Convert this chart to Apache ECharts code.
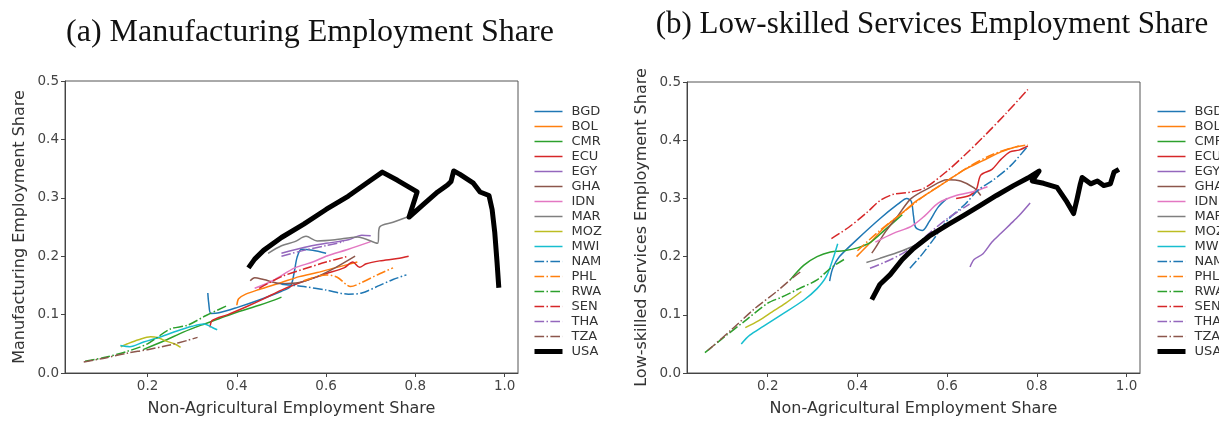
<!DOCTYPE html>
<html><head><meta charset="utf-8">
<script src="https://cdn.jsdelivr.net/npm/echarts@6/dist/echarts.min.js"></script>
<style>html,body{margin:0;padding:0;background:#fff}#c{width:1219px;height:422px}</style>
</head><body><div id="c"></div>
<script>
const countries = ['BGD','BOL','CMR','ECU','EGY','GHA','IDN','MAR','MOZ','MWI','NAM','PHL','RWA','SEN','THA','TZA','USA'];
const colors = ['#1f77b4','#ff7f0e','#2ca02c','#d62728','#9467bd','#8c564b','#e377c2','#7f7f7f','#bcbd22','#17becf','#1f77b4','#ff7f0e','#2ca02c','#d62728','#9467bd','#8c564b','#000000'];
const dashDot = ['NAM','PHL','RWA','SEN','THA','TZA'];
const xTicks = [0.2,0.4,0.6,0.8,1.0];
const yTicks = [0,0.1,0.2,0.3,0.4,0.5];

// (a) Manufacturing employment share vs non-agricultural employment share
const mfg_BGD = [[0.335,0.137],[0.337,0.12],[0.342,0.102],[0.36,0.103],[0.4,0.112],[0.45,0.125],[0.5,0.14],[0.52,0.148],[0.528,0.17],[0.535,0.198],[0.545,0.212],[0.57,0.21],[0.6,0.205]];
const mfg_BOL = [[0.40,0.116],[0.404,0.127],[0.42,0.135],[0.45,0.143],[0.5,0.155],[0.54,0.165],[0.58,0.172],[0.62,0.18],[0.67,0.19]];
const mfg_CMR = [[0.19,0.04],[0.24,0.056],[0.28,0.07],[0.32,0.082],[0.36,0.093],[0.4,0.104],[0.45,0.116],[0.48,0.124],[0.5,0.13]];
const mfg_ECU = [[0.34,0.078],[0.345,0.09],[0.38,0.1],[0.42,0.113],[0.46,0.127],[0.5,0.142],[0.55,0.157],[0.6,0.17],[0.64,0.18],[0.66,0.19],[0.675,0.181],[0.69,0.187],[0.72,0.192],[0.76,0.196],[0.785,0.2]];
const mfg_EGY = [[0.5,0.205],[0.55,0.215],[0.6,0.222],[0.65,0.228],[0.68,0.236],[0.7,0.235]];
const mfg_GHA = [[0.43,0.158],[0.44,0.163],[0.46,0.16],[0.5,0.153],[0.54,0.155],[0.58,0.165],[0.62,0.18],[0.665,0.2]];
const mfg_IDN = [[0.44,0.145],[0.48,0.158],[0.53,0.18],[0.57,0.19],[0.6,0.2],[0.65,0.212],[0.7,0.225]];
const mfg_MAR = [[0.47,0.205],[0.5,0.218],[0.53,0.225],[0.555,0.234],[0.58,0.226],[0.62,0.228],[0.67,0.233],[0.715,0.222],[0.72,0.25],[0.75,0.258],[0.782,0.267]];
const mfg_MOZ = [[0.14,0.045],[0.155,0.05],[0.18,0.057],[0.207,0.062],[0.225,0.06],[0.24,0.055],[0.26,0.05],[0.274,0.044]];
const mfg_MWI = [[0.139,0.047],[0.16,0.045],[0.191,0.053],[0.23,0.062],[0.266,0.072],[0.3,0.08],[0.326,0.084],[0.345,0.078],[0.356,0.074]];
const mfg_NAM = [[0.5,0.152],[0.55,0.148],[0.6,0.142],[0.65,0.135],[0.68,0.137],[0.72,0.15],[0.75,0.16],[0.78,0.168]];
const mfg_PHL = [[0.55,0.158],[0.6,0.168],[0.625,0.164],[0.655,0.148],[0.68,0.155],[0.72,0.17],[0.75,0.18]];
const mfg_RWA = [[0.06,0.02],[0.1,0.026],[0.15,0.036],[0.2,0.05],[0.25,0.075],[0.29,0.082],[0.33,0.098],[0.38,0.116]];
const mfg_SEN = [[0.45,0.145],[0.5,0.165],[0.55,0.178],[0.6,0.19],[0.65,0.2]];
const mfg_THA = [[0.5,0.2],[0.55,0.21],[0.6,0.218],[0.64,0.225]];
const mfg_TZA = [[0.057,0.019],[0.1,0.025],[0.154,0.034],[0.2,0.04],[0.25,0.048],[0.29,0.056],[0.312,0.061]];
const mfg_USA = [[0.426,0.18],[0.44,0.195],[0.46,0.21],[0.5,0.232],[0.55,0.255],[0.6,0.28],[0.65,0.303],[0.7,0.33],[0.726,0.344],[0.76,0.33],[0.804,0.31],[0.786,0.267],[0.82,0.29],[0.85,0.31],[0.872,0.322],[0.88,0.328],[0.886,0.346],[0.9,0.34],[0.93,0.325],[0.945,0.31],[0.965,0.304],[0.972,0.28],[0.978,0.24],[0.983,0.19],[0.987,0.146]];

// (b) Low-skilled services employment share vs non-agricultural employment share
const svc_BGD = [[0.338,0.158],[0.345,0.18],[0.36,0.2],[0.4,0.23],[0.45,0.265],[0.49,0.29],[0.51,0.3],[0.52,0.295],[0.525,0.27],[0.53,0.25],[0.545,0.245],[0.56,0.26],[0.58,0.285],[0.6,0.3]];
const svc_BOL = [[0.398,0.2],[0.43,0.225],[0.46,0.25],[0.5,0.275],[0.53,0.295],[0.56,0.31],[0.6,0.33],[0.64,0.35],[0.68,0.365],[0.72,0.38],[0.76,0.39]];
const svc_CMR = [[0.25,0.16],[0.28,0.185],[0.31,0.2],[0.34,0.208],[0.37,0.21],[0.4,0.215],[0.43,0.225],[0.46,0.245],[0.5,0.272]];
const svc_ECU = [[0.62,0.3],[0.65,0.305],[0.665,0.315],[0.675,0.34],[0.7,0.35],[0.72,0.367],[0.74,0.38],[0.76,0.383],[0.78,0.39]];
const svc_EGY = [[0.651,0.182],[0.66,0.195],[0.68,0.205],[0.7,0.225],[0.72,0.24],[0.74,0.255],[0.76,0.27],[0.785,0.292]];
const svc_GHA = [[0.432,0.206],[0.44,0.215],[0.46,0.24],[0.49,0.27],[0.52,0.3],[0.56,0.318],[0.6,0.332],[0.63,0.33],[0.66,0.318],[0.675,0.305]];
const svc_IDN = [[0.44,0.225],[0.48,0.24],[0.52,0.252],[0.55,0.27],[0.58,0.292],[0.62,0.305],[0.66,0.312],[0.69,0.32]];
const svc_MAR = [[0.42,0.19],[0.45,0.197],[0.5,0.21],[0.53,0.22]];
const svc_MOZ = [[0.15,0.078],[0.18,0.09],[0.21,0.105],[0.24,0.12],[0.275,0.14]];
const svc_MWI = [[0.141,0.05],[0.16,0.065],[0.19,0.08],[0.23,0.1],[0.28,0.125],[0.31,0.145],[0.33,0.165],[0.345,0.195],[0.356,0.222]];
const svc_NAM = [[0.517,0.18],[0.54,0.2],[0.57,0.23],[0.6,0.262],[0.64,0.29],[0.67,0.315],[0.7,0.33],[0.74,0.355],[0.78,0.39]];
const svc_PHL = [[0.4,0.21],[0.45,0.245],[0.5,0.275],[0.55,0.305],[0.6,0.33],[0.65,0.355],[0.7,0.375],[0.75,0.388],[0.78,0.392]];
const svc_RWA = [[0.06,0.035],[0.1,0.06],[0.15,0.09],[0.2,0.12],[0.23,0.13],[0.27,0.145],[0.31,0.16],[0.34,0.18],[0.37,0.195]];
const svc_SEN = [[0.342,0.231],[0.38,0.25],[0.42,0.275],[0.45,0.296],[0.48,0.307],[0.52,0.311],[0.55,0.318],[0.6,0.347],[0.64,0.375],[0.68,0.405],[0.73,0.445],[0.78,0.487]];
const svc_THA = [[0.428,0.18],[0.46,0.19],[0.5,0.205],[0.53,0.22],[0.56,0.24],[0.6,0.265],[0.65,0.29]];
const svc_TZA = [[0.067,0.039],[0.12,0.075],[0.17,0.11],[0.22,0.14],[0.25,0.16],[0.275,0.175]];
const svc_USA = [[0.432,0.126],[0.45,0.152],[0.473,0.169],[0.5,0.195],[0.525,0.214],[0.56,0.235],[0.6,0.254],[0.64,0.272],[0.674,0.288],[0.71,0.305],[0.748,0.322],[0.78,0.335],[0.805,0.347],[0.79,0.33],[0.815,0.326],[0.845,0.319],[0.867,0.294],[0.882,0.274],[0.89,0.3],[0.897,0.325],[0.901,0.336],[0.92,0.325],[0.935,0.33],[0.949,0.322],[0.964,0.325],[0.972,0.345],[0.983,0.35]];

const mfgData = {BGD:mfg_BGD,BOL:mfg_BOL,CMR:mfg_CMR,ECU:mfg_ECU,EGY:mfg_EGY,GHA:mfg_GHA,IDN:mfg_IDN,MAR:mfg_MAR,MOZ:mfg_MOZ,MWI:mfg_MWI,NAM:mfg_NAM,PHL:mfg_PHL,RWA:mfg_RWA,SEN:mfg_SEN,THA:mfg_THA,TZA:mfg_TZA,USA:mfg_USA};
const svcData = {BGD:svc_BGD,BOL:svc_BOL,CMR:svc_CMR,ECU:svc_ECU,EGY:svc_EGY,GHA:svc_GHA,IDN:svc_IDN,MAR:svc_MAR,MOZ:svc_MOZ,MWI:svc_MWI,NAM:svc_NAM,PHL:svc_PHL,RWA:svc_RWA,SEN:svc_SEN,THA:svc_THA,TZA:svc_TZA,USA:svc_USA};

const FONT = 'DejaVu Sans';
const DASHDOT = [9.6,2.4,1.5,2.4];
function xAxisCfg(idx){
  return {gridIndex: idx, type:'value', min: idx===0?0.015:0.02, max:1.03,
    name:'Non-Agricultural Employment Share', nameLocation:'middle', nameGap:28,
    nameTextStyle:{fontFamily:FONT,fontSize:16,color:'#333'},
    axisLine:{show:true,onZero:false,lineStyle:{color:'#444',width:1}},
    axisTick:{show:true,length:4,lineStyle:{color:'#444'},customValues:xTicks},
    axisLabel:{fontFamily:FONT,fontSize:13.5,color:'#444',margin:6,customValues:xTicks,formatter:v=>v.toFixed(1)},
    splitLine:{show:false}};
}
function yAxisCfg(idx, name){
  return {gridIndex: idx, type:'value', min:0, max:0.5, interval:0.1,
    name:name, nameLocation:'middle', nameGap:37,
    nameTextStyle:{fontFamily:FONT,fontSize:16,color:'#333'},
    axisLine:{show:true,lineStyle:{color:'#444',width:1}},
    axisTick:{show:true,length:4,lineStyle:{color:'#444'}},
    axisLabel:{fontFamily:FONT,fontSize:13.5,color:'#444',margin:6,formatter:v=>v.toFixed(1)},
    splitLine:{show:false}};
}
const series = [];
[mfgData, svcData].forEach((src, gi) => {
  countries.forEach((c, i) => {
    const isUSA = c === 'USA';
    const dd = dashDot.includes(c);
    series.push({name:c, type:'line', xAxisIndex:gi, yAxisIndex:gi, data:src[c],
      showSymbol:false, symbol:'none', smooth: isUSA ? false : 0.3, z: isUSA?3:2,
      lineStyle:{color:colors[i], width: isUSA?5:1.5, type: dd?DASHDOT:'solid', cap:'butt', join:'round'},
      itemStyle:{color:colors[i]}, emphasis:{disabled:true}, animation:false});
  });
});
const legendItems = countries.map((c, i) => ({
  name:c,
  itemStyle:{opacity:0},
  lineStyle:{color:colors[i], width: c==='USA'?5:1.5, type: dashDot.includes(c)?DASHDOT:'solid', cap:'butt'}
}));
function legendCfg(left){
  return {orient:'vertical', left:left, top:99, itemWidth:28, itemHeight:15, itemGap:0,
    data: legendItems,
    textStyle:{fontFamily:FONT,fontSize:13,color:'#333',lineHeight:15, padding:[0,0,0,4]},
    selectedMode:false};
}
const chart = echarts.init(document.getElementById('c'), null, {renderer:'canvas'});
chart.setOption({
  backgroundColor:'#fff',
  animation:false,
  title:[
    {text:'(a) Manufacturing Employment Share', left:305, top:12, textAlign:'center',
     textStyle:{fontFamily:'Liberation Serif',fontSize:32,fontWeight:'normal',color:'#111'}},
    {text:'(b) Low-skilled Services Employment Share', left:927, top:4, textAlign:'center',
     textStyle:{fontFamily:'Liberation Serif',fontSize:31,fontWeight:'normal',color:'#111'}}
  ],
  grid:[
    {left:65, top:81, width:453, height:295, show:true, borderColor:'#555', borderWidth:1, backgroundColor:'transparent'},
    {left:687, top:82, width:453, height:294, show:true, borderColor:'#555', borderWidth:1, backgroundColor:'transparent'}
  ],
  xAxis:[xAxisCfg(0), xAxisCfg(1)],
  yAxis:[yAxisCfg(0,'Manufacturing Employment Share'), yAxisCfg(1,'Low-skilled Services Employment Share')],
  legend:[legendCfg(527), legendCfg(1150)],
  series: series
});
</script></body></html>
